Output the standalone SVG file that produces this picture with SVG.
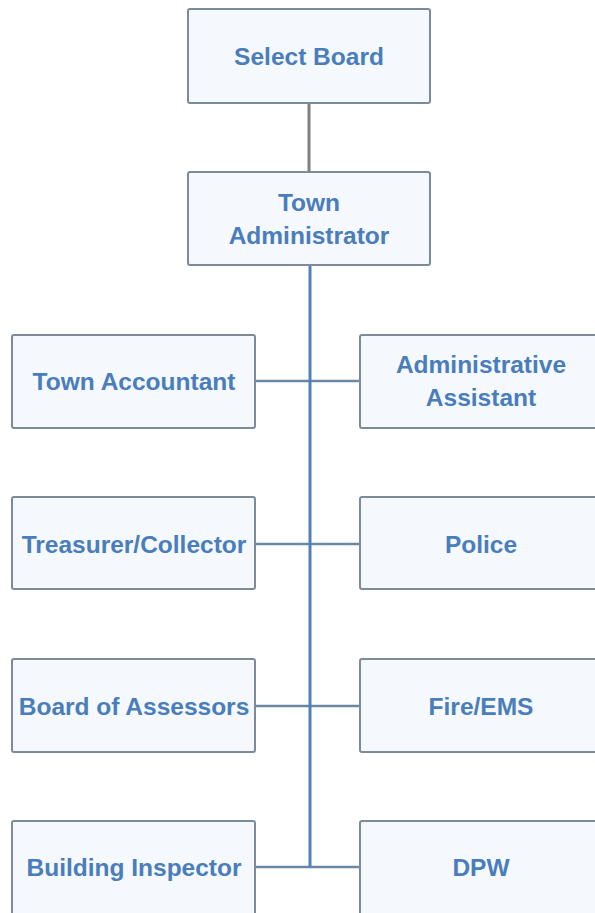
<svg xmlns="http://www.w3.org/2000/svg" width="595" height="913" viewBox="0 0 595 913">
<style>
.box{fill:#f5f9fd;stroke:#7d8a97;stroke-width:2}
.lbl{font-family:"Liberation Sans",Arial,sans-serif;font-weight:bold;font-size:24.5px;fill:#4a7dbb;text-anchor:middle}
.gray{stroke:#7f7f7f;stroke-width:3;fill:none}
.blue{stroke:#4f81bd;stroke-width:3;fill:none}
.hl{stroke:#6b87a6;stroke-width:2.5;fill:none}
</style>
<rect width="595" height="913" fill="#ffffff"/>
<g id="connectors">
<line class="gray" x1="309" y1="103" x2="309" y2="172"/>
<line class="hl" x1="255" y1="381" x2="360" y2="381"/>
<line class="hl" x1="255" y1="544" x2="360" y2="544"/>
<line class="hl" x1="255" y1="706" x2="360" y2="706"/>
<line class="hl" x1="255" y1="867" x2="360" y2="867"/>
<line class="blue" x1="310" y1="265" x2="310" y2="867"/>
</g>
<g id="select-board"><rect class="box" x="188" y="9" width="242" height="94" rx="2"/><text class="lbl" x="309" y="65">Select Board</text></g>
<g id="town-administrator"><rect class="box" x="188" y="172" width="242" height="93" rx="2"/><text class="lbl" x="309" y="211">Town</text><text class="lbl" x="309" y="244">Administrator</text></g>
<g id="town-accountant"><rect class="box" x="12" y="335" width="243" height="93" rx="2"/><text class="lbl" x="134" y="390">Town Accountant</text></g>
<g id="administrative-assistant"><rect class="box" x="360" y="335" width="243" height="93" rx="2"/><text class="lbl" x="481" y="373">Administrative</text><text class="lbl" x="481" y="406">Assistant</text></g>
<g id="treasurer-collector"><rect class="box" x="12" y="497" width="243" height="92" rx="2"/><text class="lbl" x="134" y="553">Treasurer/Collector</text></g>
<g id="police"><rect class="box" x="360" y="497" width="243" height="92" rx="2"/><text class="lbl" x="481" y="553">Police</text></g>
<g id="board-of-assessors"><rect class="box" x="12" y="659" width="243" height="93" rx="2"/><text class="lbl" x="134" y="715">Board of Assessors</text></g>
<g id="fire-ems"><rect class="box" x="360" y="659" width="243" height="93" rx="2"/><text class="lbl" x="481" y="715">Fire/EMS</text></g>
<g id="building-inspector"><rect class="box" x="12" y="821" width="243" height="100" rx="2"/><text class="lbl" x="134" y="876">Building Inspector</text></g>
<g id="dpw"><rect class="box" x="360" y="821" width="243" height="100" rx="2"/><text class="lbl" x="481" y="876">DPW</text></g>
</svg>
